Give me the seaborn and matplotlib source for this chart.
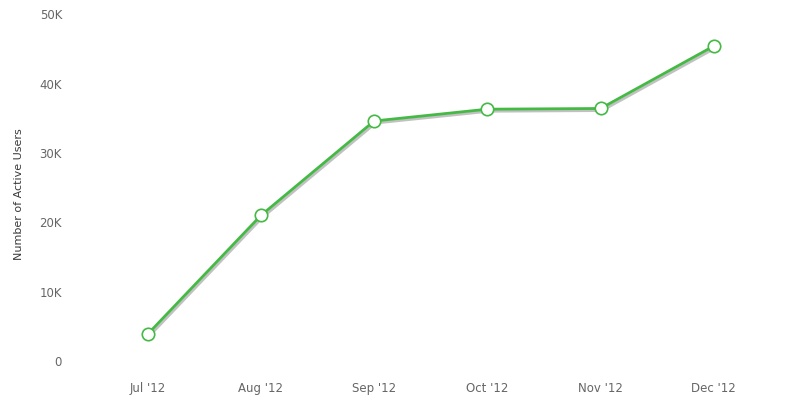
import matplotlib.pyplot as plt
import matplotlib.patheffects as pe
import pandas as pd
import seaborn as sns

# values
months = ["Jul '12", "Aug '12", "Sep '12", "Oct '12", "Nov '12", "Dec '12"]
active_users = [3900, 21000, 34600, 36300, 36400, 45400]
y_ticks = [0, 10000, 20000, 30000, 40000, 50000]
y_tick_labels = ["0", "10K", "20K", "30K", "40K", "50K"]

df = pd.DataFrame({"month": months, "users": active_users})

sns.set_style("white")
plt.rcParams['font.family'] = ['DejaVu Sans']

fig = plt.figure(figsize=(8, 4.03), dpi=100)
ax = fig.add_axes([0.114, 0.0695, 0.849, 0.8955])

green = "#44b944"
# line with a soft drop shadow
sns.lineplot(data=df, x="month", y="users", ax=ax, color=green, linewidth=2.0,
             path_effects=[pe.SimpleLineShadow(offset=(1.0, -1.5), shadow_color="#666666", alpha=0.4),
                           pe.Normal()])
# hollow markers on top
sns.scatterplot(data=df, x="month", y="users", ax=ax, s=80, color="white",
                edgecolor=green, linewidth=1.2, zorder=5)

ax.set_xlim(-0.5, 5.5)
ax.set_ylim(-2000, 50000)
ax.set_yticks(y_ticks)
ax.set_yticklabels(y_tick_labels)
ax.tick_params(axis="both", length=0, labelsize=8.5, labelcolor="#666666")
ax.tick_params(axis="x", pad=5)
ax.tick_params(axis="y", pad=21)
ax.set_xlabel("")
ax.set_ylabel("Number of Active Users", fontsize=8, color="#3a3a3a", labelpad=11)
sns.despine(ax=ax, left=True, bottom=True)

fig.savefig("out.png", dpi=100)
